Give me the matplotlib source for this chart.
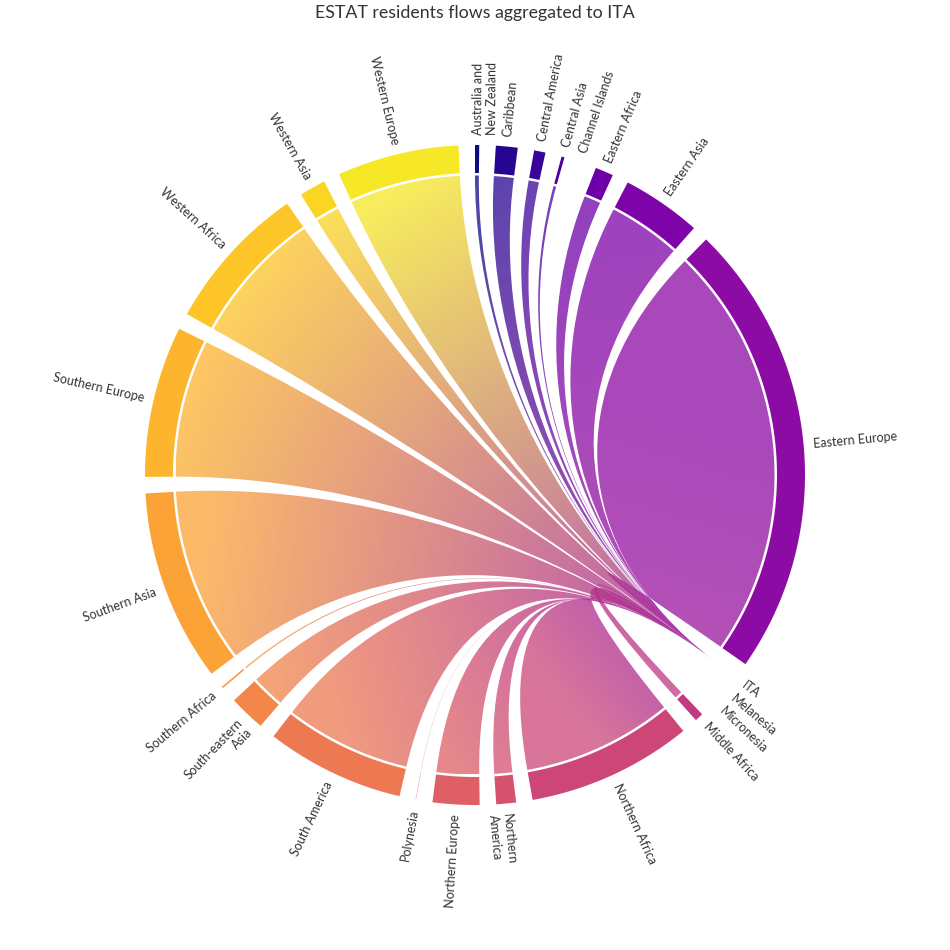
import numpy as np
import matplotlib.pyplot as plt
from matplotlib.path import Path
from matplotlib.patches import PathPatch
from matplotlib import colormaps

plt.rcParams['font.family'] = ['Lato', 'DejaVu Sans']

# regions of origin, in wheel order (clockwise from the top)
nodes = ["Australia and\nNew Zealand", "Caribbean", "Central America", "Central Asia",
         "Channel Islands", "Eastern Africa", "Eastern Asia", "Eastern Europe", "ITA",
         "Melanesia", "Micronesia", "Middle Africa", "Northern Africa", "Northern\nAmerica",
         "Northern Europe", "Polynesia", "South America", "South-eastern\nAsia",
         "Southern Africa", "Southern Asia", "Southern Europe", "Western Africa",
         "Western Asia", "Western Europe"]
# residents (thousands) flowing to ITA
residents = [13, 67, 35, 9, 0, 56, 245, 1409, 0, 0, 0, 26, 509, 61, 144, 1,
             427, 112, 5, 592, 466, 457, 81, 375]
target = "ITA"
title = "ESTAT residents flows aggregated to ITA"

# layout (pixels, y pointing down)
cx, cy = 475, 475
r_out, r_in, r_link, r_lab = 330, 302, 299.5, 340
gap = np.radians(2.88)
curve = 0.6
font_pt = 9
line_px = font_pt * 100 / 72 * 1.2
colors = colormaps['plasma'](np.arange(len(nodes)) / len(nodes))[:, :3]


def pt(a, r):
    return (cx + r * np.sin(a), cy - r * np.cos(a))


def cp(p):
    return (cx + (1 - curve) * (p[0] - cx), cy + (1 - curve) * (p[1] - cy))


# angular extent of every node
k = (2 * np.pi - len(nodes) * gap) / sum(residents)
starts, ends = [], []
a = 0.0
for v in residents:
    starts.append(a)
    a += v * k
    ends.append(a)
    a += gap
a_target = starts[nodes.index(target)]
c_target = colors[nodes.index(target)]

fig = plt.figure(figsize=(9.5, 9.5), dpi=100)
ax = fig.add_axes([0, 0, 1, 1])

# 1. ribbons with a gradient from the source colour to the target colour
for i, v in enumerate(residents):
    if v == 0 or nodes[i] == target:
        continue
    arc = [pt(t, r_link) for t in np.linspace(starts[i], ends[i], 60)]
    c0, c1, tp = arc[0], arc[-1], pt(a_target, r_link)
    verts = arc + [cp(c1), cp(tp), tp, cp(tp), cp(c0), c0]
    codes = [Path.MOVETO] + [Path.LINETO] * (len(arc) - 1) + [Path.CURVE4] * 6
    path = Path(verts, codes)

    x0, y0 = path.vertices.min(axis=0)
    x1, y1 = path.vertices.max(axis=0)
    nx, ny = int(x1 - x0) + 2, int(y1 - y0) + 2
    gx, gy = np.meshgrid(np.linspace(x0, x1, nx), np.linspace(y0, y1, ny))
    s = pt((starts[i] + ends[i]) / 2, r_link)
    d = np.array(tp) - np.array(s)
    t = np.clip(((gx - s[0]) * d[0] + (gy - s[1]) * d[1]) / (d @ d), 0, 1)[..., None]
    rgb = (1 - t) * colors[i] + t * c_target
    img = np.dstack([rgb, np.full((ny, nx), 0.75)])
    im = ax.imshow(img, extent=(x0, x1, y1, y0), origin='upper',
                   interpolation='bilinear', zorder=2)
    clip = PathPatch(path, facecolor='none', edgecolor='none')
    ax.add_patch(clip)
    im.set_clip_path(clip)

# 2. node arcs
for i, v in enumerate(residents):
    if v == 0:
        continue
    aa = np.linspace(starts[i], ends[i], 60)
    verts = [pt(t, r_out) for t in aa] + [pt(t, r_in) for t in aa[::-1]]
    ax.add_patch(PathPatch(Path(verts + [verts[0]], closed=True),
                           facecolor=colors[i], edgecolor='none', zorder=4))

# 3. labels running along the radius, first line centred on the node
for i, name in enumerate(nodes):
    mid = (starts[i] + ends[i]) / 2
    deg = np.degrees(mid) % 360
    x, y = pt(mid, r_lab)
    if deg < 180:
        rot, ha = 90 - deg, 'left'
    else:
        rot, ha = 270 - deg, 'right'
    shift = name.count('\n') * line_px / 2
    x += shift * np.sin(np.radians(rot))
    y += shift * np.cos(np.radians(rot))
    ax.text(x, y, name, rotation=rot, rotation_mode='anchor', ha=ha, va='center',
            multialignment=ha, fontsize=font_pt, color='#333333', zorder=5)

fig.text(0.5, 1 - 13 / 950, title, ha='center', va='center', fontsize=12.75, color='#333333')

ax.set_xlim(0, 950)
ax.set_ylim(950, 0)
ax.set_aspect('equal')
ax.axis('off')

fig.savefig('out.png', dpi=100, facecolor='white')
